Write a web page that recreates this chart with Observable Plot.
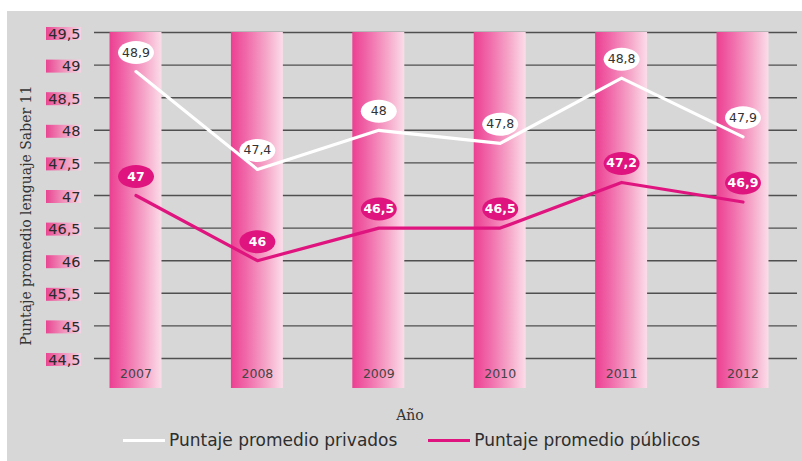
<!DOCTYPE html>
<html><head><meta charset="utf-8">
<script src="https://cdn.jsdelivr.net/npm/d3@7"></script>
<script src="https://cdn.jsdelivr.net/npm/@observablehq/plot@0.6"></script>
<style>
body{margin:0;background:#fff;width:802px;height:461px;overflow:hidden;position:relative;font-family:"DejaVu Sans",sans-serif}
#panel{position:absolute;left:7px;top:11px;width:795px;height:450px;background:#d7d7d7}
#chart{position:absolute;left:0;top:0}
#legend{position:absolute;left:116px;top:419px;display:flex;align-items:center;font-size:17px;color:#2e2e2e;white-space:nowrap}
.sw{display:inline-block;width:42px;height:3px;margin-right:4px}
.item{display:flex;align-items:center;margin-right:31px}
</style></head>
<body>
<div id="panel"><div id="chart"></div><div id="legend"></div></div>
<script>
const years = [2007, 2008, 2009, 2010, 2011, 2012];
const privados = [48.9, 47.4, 48, 47.8, 48.8, 47.9];
const publicos = [47, 46, 46.5, 46.5, 47.2, 46.9];
const yTicks = [44.5, 45, 45.5, 46, 46.5, 47, 47.5, 48, 48.5, 49, 49.5];
const seriesNames = ["Puntaje promedio privados", "Puntaje promedio públicos"];
const seriesColors = ["#ffffff", "#e0147e"];
const yTitle = "Puntaje promedio lenguaje Saber 11";
const xTitle = "Año";

const rows = [];
years.forEach((yr, i) => {
  rows.push({year: yr, value: privados[i], series: seriesNames[0]});
  rows.push({year: yr, value: publicos[i], series: seriesNames[1]});
});
const fmt = v => String(v).replace(".", ",");
const barHalf = 0.214, barBottom = 44.04, barTop = 49.5;

const ellipse = {
  draw(ctx) {
    const rx = 18, ry = 11.5, k = 0.5523;
    ctx.moveTo(rx, 0);
    ctx.bezierCurveTo(rx, ry * k, rx * k, ry, 0, ry);
    ctx.bezierCurveTo(-rx * k, ry, -rx, ry * k, -rx, 0);
    ctx.bezierCurveTo(-rx, -ry * k, -rx * k, -ry, 0, -ry);
    ctx.bezierCurveTo(rx * k, -ry, rx, -ry * k, rx, 0);
    ctx.closePath();
  }
};

function tickBoxes(index, scales, values, dimensions) {
  const g = d3.create("svg:g");
  for (const t of yTicks) {
    g.append("rect")
      .attr("x", dimensions.marginLeft - 48).attr("width", 35)
      .attr("y", scales.y(t) - 5).attr("height", 13)
      .attr("fill", "url(#tickGrad)");
  }
  return g.node();
}

const plot = Plot.plot({
  width: 795, height: 450,
  marginLeft: 87, marginRight: 5, marginTop: 21, marginBottom: 103,
  style: {background: "transparent", fontFamily: "DejaVu Sans, sans-serif", overflow: "visible"},
  x: {domain: [2007, 2012], range: [128.5, 735.5], axis: null},
  y: {domain: [44.5, 49.5]},
  color: {domain: seriesNames, range: seriesColors},
  marks: [
    Plot.ruleY(yTicks, {stroke: "#4f4f4f", strokeWidth: 1.4}),
    Plot.rect(years, {x1: d => d - barHalf, x2: d => d + barHalf, y1: barBottom, y2: barTop, fill: "url(#barGrad)"}),
    tickBoxes,
    Plot.axisY(yTicks, {tickSize: 0, tickPadding: 14, fontSize: 14.5, fill: "#2a2a2a", dy: 1.5, tickFormat: fmt, label: null}),
    Plot.text(years, {x: d => d, y: 44.5, dy: 15, text: d => String(d), fontSize: 12.5, fill: "#444"}),
    Plot.line(rows, {x: "year", y: "value", stroke: "series", z: "series", strokeWidth: 3.2}),
    Plot.dot(rows, {x: "year", y: "value", dy: -19, symbol: ellipse, fill: "series"}),
    Plot.text(rows.filter(d => d.series === seriesNames[0]), {x: "year", y: "value", dy: -19, text: d => fmt(d.value), fill: "#333", fontSize: 12.5}),
    Plot.text(rows.filter(d => d.series === seriesNames[1]), {x: "year", y: "value", dy: -19, text: d => fmt(d.value), fill: "#fff", fontSize: 12.5, fontWeight: 600}),
    Plot.text([yTitle], {frameAnchor: "left", textAnchor: "middle", rotate: -90, dx: -68, dy: 20, fontSize: 14, fontFamily: "DejaVu Serif", fill: "#333"}),
    Plot.text([xTitle], {frameAnchor: "bottom", lineAnchor: "middle", dx: -36, dy: 57, fontSize: 14, fontFamily: "DejaVu Serif", fill: "#333"})
  ]
});

const svg = d3.select(plot);
const defs = svg.insert("defs", ":first-child");
const bg = defs.append("linearGradient").attr("id", "barGrad").attr("x1", 0).attr("x2", 1).attr("y1", 0).attr("y2", 0);
bg.append("stop").attr("offset", "0%").attr("stop-color", "#ec3f92");
bg.append("stop").attr("offset", "30%").attr("stop-color", "#f06aaa");
bg.append("stop").attr("offset", "70%").attr("stop-color", "#f6aacb");
bg.append("stop").attr("offset", "100%").attr("stop-color", "#fbdde9");
const tg = defs.append("linearGradient").attr("id", "tickGrad").attr("x1", 0).attr("x2", 1).attr("y1", 0).attr("y2", 0);
tg.append("stop").attr("offset", "0%").attr("stop-color", "#e94592");
tg.append("stop").attr("offset", "45%").attr("stop-color", "#f08cb8");
tg.append("stop").attr("offset", "100%").attr("stop-color", "#f5d3e2");
document.getElementById("chart").appendChild(plot);

const legend = document.getElementById("legend");
seriesNames.forEach((name, i) => {
  const item = document.createElement("div");
  item.className = "item";
  const sw = document.createElement("span");
  sw.className = "sw";
  sw.style.background = seriesColors[i];
  const tx = document.createElement("span");
  tx.textContent = name;
  item.appendChild(sw); item.appendChild(tx);
  legend.appendChild(item);
});
</script>
</body></html>
